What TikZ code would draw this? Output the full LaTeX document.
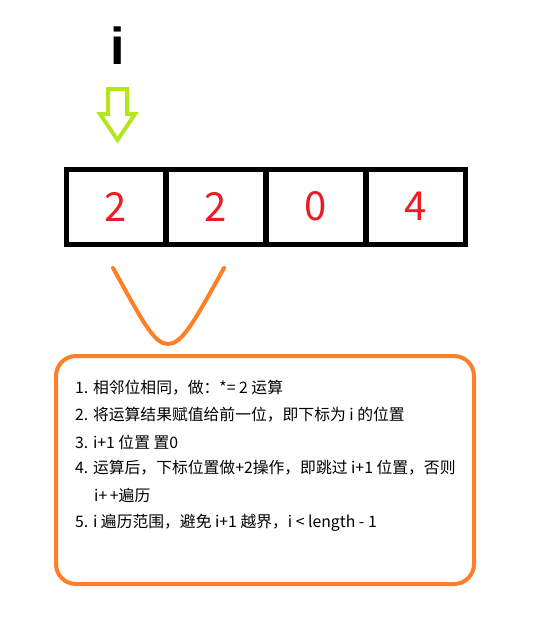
\documentclass[tikz,border=0pt]{standalone}
\usepackage{fontspec}
\setmainfont{Noto Sans CJK SC}
\newfontfamily\ifont{Liberation Sans Bold}
\definecolor{arrgreen}{RGB}{181,230,29}
\definecolor{vorange}{RGB}{255,127,39}
\definecolor{numred}{RGB}{237,28,36}
\begin{document}
\begin{tikzpicture}[x=1pt,y=-1pt,
  cell/.style={draw=black,line width=5pt,minimum width=99pt,minimum height=75pt,inner sep=0pt,text=numred,font=\fontsize{40}{40}\selectfont},
  textbox/.style={draw=vorange,line width=4pt,rounded corners=20pt,minimum width=418pt,minimum height=228pt,inner sep=0pt},
  item/.style={anchor=west,inner sep=0pt,font=\fontsize{15.8}{18}\selectfont},
  vline/.style={draw=vorange,line width=4pt,line cap=round},
  ptr/.style={draw=arrgreen,line width=4pt,line join=miter}
]
\useasboundingbox (0,0) rectangle (539,619);
% index label
\node[inner sep=0pt,font=\ifont\fontsize{52}{52}\selectfont] (ilab) at (118,46) {i};
% hollow arrow
\draw[ptr] (108,89) -- (127,89) -- (127,114) -- (135,114) -- (117.5,140) -- (100,114) -- (108,114) -- cycle;
% array cells
\node[cell] (c1) at (115.5,206.5) {2};
\node[cell] (c2) at (215.5,206.5) {2};
\node[cell] (c3) at (315.5,206.5) {0};
\node[cell] (c4) at (415.5,206.5) {4};
% V connector
\coordinate (v1) at (113,268);
\coordinate (vb) at (168,344);
\coordinate (v2) at (224,268);
\draw[vline] (v1) .. controls (143,322) and (154,344) .. (vb) .. controls (182,344) and (194,322) .. (v2);
% text box
\node[textbox] (box) at (265,470) {};
\node[item] (l1) at (75,388) {1. 相邻位相同，做：*= 2 运算};
\node[item] (l2) at (75,415) {2. 将运算结果赋值给前一位，即下标为 i 的位置};
\node[item] (l3) at (75,442) {3. i+1 位置 置0};
\node[item] (l4) at (75,468) {4. 运算后，下标位置做+2操作，即跳过 i+1 位置，否则};
\node[item] (l4b) at (94,495) {i+\,+遍历};
\node[item] (l5) at (75,523) {5. i 遍历范围，避免 i+1 越界，i < length - 1};
\end{tikzpicture}
\end{document}
